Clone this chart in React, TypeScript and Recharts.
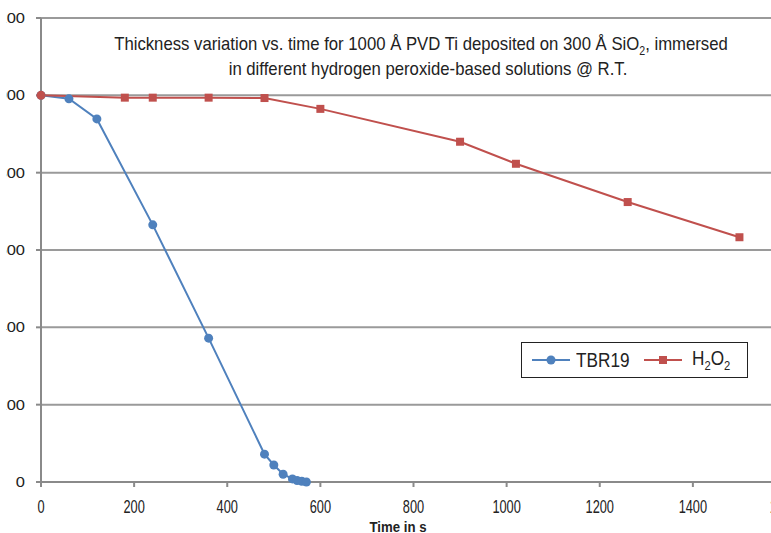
import React from 'react';
import { LineChart, Line, XAxis, YAxis, CartesianGrid, Legend } from 'recharts';

const tbr19Time = [0, 60, 120, 240, 360, 480, 500, 520, 540, 550, 560, 570];
const tbr19Thickness = [1000, 991, 939, 665, 372, 72, 44, 20, 8, 4, 2, 0];
const h2o2Time = [0, 180, 240, 360, 480, 600, 900, 1020, 1260, 1500];
const h2o2Thickness = [1000, 994, 994, 994, 993, 965, 880, 823, 724, 633];
const xTicks = [0, 200, 400, 600, 800, 1000, 1200, 1400, 1600];
const yTicks = [0, 200, 400, 600, 800, 1000, 1200];

const tbr19Data = tbr19Time.map((t, i) => ({ t, v: tbr19Thickness[i] }));
const h2o2Data = h2o2Time.map((t, i) => ({ t, v: h2o2Thickness[i] }));

const BLUE = '#4F81BD';
const RED = '#C0504D';
const FONT = '"Liberation Sans", Arial, sans-serif';

const SquareDot = (props: any) => {
  const { cx, cy, index } = props;
  if (cx == null || cy == null) return null;
  if (index === 0) return <circle key={index} cx={cx} cy={cy} r={4.5} fill={RED} />;
  return <rect key={index} x={cx - 4} y={cy - 4} width={8} height={8} fill={RED} />;
};

const XTick = (props: any) => {
  const { x, y, payload } = props;
  return (
    <g transform={`translate(${x},${y}) scale(0.8,1.1)`}>
      <text x={0} y={0} dy={12} textAnchor="middle" fill="#222" fontSize={16} fontFamily={FONT}>
        {payload.value}
      </text>
    </g>
  );
};

const YTick = (props: any) => {
  const { x, y, payload } = props;
  return (
    <g transform={`translate(${x},${y}) scale(1.1,1)`}>
      <text x={0} y={0} dy={5} textAnchor="end" fill="#222" fontSize={15} fontFamily={FONT}>
        {payload.value}
      </text>
    </g>
  );
};

const LegendBox = () => (
  <div
    style={{
      border: '1px solid #222',
      width: 225,
      height: 34,
      display: 'flex',
      alignItems: 'center',
      fontFamily: FONT,
      color: '#222',
      background: '#fff',
      boxSizing: 'content-box',
    }}
  >
    <svg width={40} height={14} style={{ marginLeft: 10 }}>
      <line x1={0} y1={7} x2={38} y2={7} stroke={BLUE} strokeWidth={2} />
      <circle cx={19} cy={7} r={4.5} fill={BLUE} />
    </svg>
    <span style={{ marginLeft: 4, fontSize: 20, display: 'inline-block', transform: 'scaleX(0.86)', transformOrigin: 'left center' }}>TBR19</span>
    <svg width={40} height={14} style={{ marginLeft: 6 }}>
      <line x1={0} y1={7} x2={38} y2={7} stroke={RED} strokeWidth={2} />
      <rect x={15} y={3} width={8} height={8} fill={RED} />
    </svg>
    <span style={{ marginLeft: 8, fontSize: 20, display: 'inline-block', transform: 'scaleX(0.86)', transformOrigin: 'left center' }}>
      H<sub style={{ fontSize: 13 }}>2</sub>O<sub style={{ fontSize: 13 }}>2</sub>
    </span>
  </div>
);

export default function App() {
  return (
    <div
      style={{
        position: 'fixed',
        left: 0,
        top: 0,
        width: 771,
        height: 533,
        overflow: 'hidden',
        background: '#fff',
      }}
    >
      <div style={{ position: 'absolute', left: -30, top: 0 }}>
        <LineChart width={830} height={533} margin={{ top: 18, right: 14, bottom: 0, left: 0 }}>
          <CartesianGrid vertical={false} stroke="#9a9a9a" strokeWidth={2} />
          <XAxis
            dataKey="t"
            type="number"
            domain={[0, 1600]}
            ticks={xTicks}
            allowDuplicatedCategory={false}
            height={51}
            stroke="#8a8a8a"
            strokeWidth={2}
            tickSize={5}
            tickMargin={13}
            tick={<XTick />}
          />
          <YAxis
            dataKey="v"
            type="number"
            domain={[0, 1200]}
            ticks={yTicks}
            width={71}
            stroke="#8a8a8a"
            strokeWidth={2}
            tickSize={5}
            tickMargin={11}
            tick={<YTick />}
          />
          <Line
            data={tbr19Data}
            dataKey="v"
            name="TBR19"
            stroke={BLUE}
            strokeWidth={2}
            dot={{ r: 4.5, fill: BLUE, stroke: BLUE, strokeWidth: 0 }}
            isAnimationActive={false}
          />
          <Line
            data={h2o2Data}
            dataKey="v"
            name="H2O2"
            stroke={RED}
            strokeWidth={2}
            dot={<SquareDot />}
            isAnimationActive={false}
          />
          <Legend
            layout="horizontal"
            verticalAlign="middle"
            align="center"
            content={() => <LegendBox />}
            wrapperStyle={{ left: 551, top: 342, width: 227, height: 36, bottom: 'auto', right: 'auto', margin: 0 }}
          />
        </LineChart>
      </div>
      <div style={{ position: 'absolute', left: 0, top: 0, width: 6, height: 470, background: '#fff' }} />
      <div
        style={{
          position: 'absolute',
          left: 0,
          width: 842,
          top: 33,
          textAlign: 'center',
          fontFamily: FONT,
          fontSize: 19,
          color: '#222',
          whiteSpace: 'nowrap',
          transform: 'scaleX(0.88)',
          transformOrigin: '421px 0',
        }}
      >
        Thickness variation vs. time for 1000 Å PVD Ti deposited on 300 Å SiO
        <sub style={{ fontSize: 12 }}>2</sub>, immersed
      </div>
      <div
        style={{
          position: 'absolute',
          left: 0,
          width: 856,
          top: 58,
          textAlign: 'center',
          fontFamily: FONT,
          fontSize: 19,
          color: '#222',
          whiteSpace: 'nowrap',
          transform: 'scaleX(0.88)',
          transformOrigin: '428px 0',
        }}
      >
        in different hydrogen peroxide-based solutions @ R.T.
      </div>
      <div
        style={{
          position: 'absolute',
          left: 298,
          width: 200,
          top: 518,
          textAlign: 'center',
          fontFamily: FONT,
          fontSize: 15,
          fontWeight: 'bold',
          color: '#222',
          transform: 'scaleX(0.88)',
        }}
      >
        Time in s
      </div>
    </div>
  );
}
